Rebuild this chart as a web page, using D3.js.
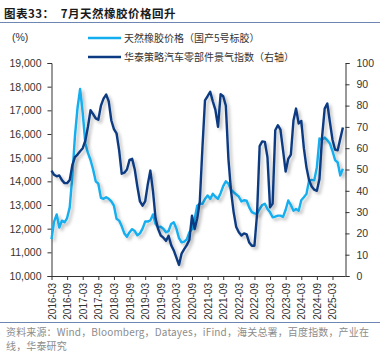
<!DOCTYPE html>
<html>
<head>
<meta charset="utf-8">
<script src="https://cdn.jsdelivr.net/npm/d3@7"></script>
<style>
  body { margin: 0; background: #fff; }
  svg text { font-family: "Liberation Sans", Arial, "Noto Sans CJK SC", sans-serif; }
  .cjk { font-family: "Noto Sans CJK SC", "Liberation Sans", sans-serif; }
</style>
</head>
<body>
<div id="chart"></div>
<script>
// x axis tick labels, one every 6 months starting 2016-03
const tickLabels = ["2016-03","2016-09","2017-03","2017-09","2018-03","2018-09","2019-03","2019-09",
    "2020-03","2020-09","2021-03","2021-09","2022-03","2022-09","2023-03","2023-09","2024-03","2024-09","2025-03"];

// monthly values 2016-03 .. 2025-07
const rubberPrice = [
    11560, 12300, 12600, 12050, 12340, 12270, 12450, 12900, 14200, 15900,
    17100, 17900, 16900, 15600, 15200, 14900, 14500, 14000, 13900, 13300,
    13260, 13330, 13260, 13150, 12970, 12420, 12340, 12100, 11800, 11660,
    11850, 11980, 11900, 11720, 11800, 12000, 12300, 12300, 12350, 12600,
    12200, 12050, 12080, 12000, 11850, 11900, 12200, 12270, 12000, 11600,
    11420, 11450, 11550, 11850, 11980, 12400, 12970, 13050, 13050, 13250,
    13400, 13260, 13470, 13350, 13260, 13500, 13800, 14000, 13900, 13650,
    13540, 13450, 13350, 13150, 13200, 13180, 12900, 12700, 12650, 12620,
    12830, 13000, 13050, 12830, 12690, 12480, 12510, 12550, 12550, 12500,
    12800, 13190, 13000, 12760, 12830, 12760, 13200, 13330, 13470, 14040,
    14060, 14040, 14600, 15810, 15750, 15850, 15740, 15600, 15280, 14900,
    14800, 14250, 14530
];

const autoIndex = [
    49.5, 47.5, 46.8, 47.2, 45.0, 43.6, 43.6, 45.0, 52.0, 55.8,
    57.0, 58.6, 60.0, 63.5, 70.0, 77.8, 76.0, 74.0, 73.4, 80.0,
    83.3, 85.2, 82.0, 73.0, 69.0, 67.0, 59.0, 48.0, 48.5, 50.0,
    54.5, 55.0, 50.0, 42.0, 35.0, 33.0, 35.0, 43.0, 49.5, 40.0,
    27.0, 22.0, 19.0, 18.0, 16.5, 18.9, 14.5, 12.0, 8.6, 5.2,
    10.5, 12.6, 14.5, 17.0, 28.3, 22.0, 27.0, 35.0, 60.0, 82.5,
    84.4, 86.5, 82.0, 78.0, 70.0, 85.4, 84.4, 80.0, 55.0, 40.0,
    30.0, 23.0, 20.5, 19.0, 20.0, 19.5, 15.7, 14.2, 14.2, 29.0,
    61.0, 63.2, 63.0, 55.8, 32.2, 34.0, 68.4, 70.8, 68.7, 59.0,
    49.0, 55.0, 57.0, 73.0, 78.6, 71.6, 72.8, 60.0, 51.0, 45.0,
    42.0, 40.5, 40.0, 45.6, 65.3, 78.6, 81.0, 72.3, 64.0, 59.3,
    59.0, 64.5, 69.7
];

const leftTicks = [10000, 11000, 12000, 13000, 14000, 15000, 16000, 17000, 18000, 19000];
const rightTicks = [0, 10, 20, 30, 40, 50, 60, 70, 80, 90, 100];

const width = 380, height = 362;
const lightBlue = "#12AEEF", darkBlue = "#0B3A82";

const svg = d3.select("#chart")
    .append("svg")
    .attr("width", width)
    .attr("height", height);

// soft shadow under the lines
const defs = svg.append("defs");
defs.append("filter")
    .attr("id", "shadow")
    .attr("x", "-5%").attr("y", "-5%")
    .attr("width", "115%").attr("height", "115%")
    .append("feDropShadow")
    .attr("dx", 2.5).attr("dy", 2.5)
    .attr("stdDeviation", 1.8)
    .attr("flood-color", "#000")
    .attr("flood-opacity", 0.25);

// title + rule
svg.append("text")
    .attr("class", "cjk")
    .attr("x", 4).attr("y", 18)
    .style("font-size", "11.5px")
    .style("font-weight", "bold")
    .style("letter-spacing", "0.5px")
    .style("white-space", "pre")
    .style("fill", "#1a1a1a")
    .text("图表33：  7月天然橡胶价格回升");

svg.append("line")
    .attr("x1", 0).attr("x2", width)
    .attr("y1", 22.5).attr("y2", 22.5)
    .attr("stroke", "#6d86b3")
    .attr("stroke-width", 1);

const x = d3.scaleLinear().domain([0, 113]).range([51.5, 345.5]);
const yL = d3.scaleLinear().domain([10000, 19000]).range([276, 63]);
const yR = d3.scaleLinear().domain([0, 100]).range([276, 63]);

// axes
const leftAxis = svg.append("g")
    .attr("transform", `translate(${x(0)},0)`)
    .call(d3.axisLeft(yL).tickValues(leftTicks).tickSize(4).tickPadding(6)
        .tickFormat(d3.format(",")));

const rightAxis = svg.append("g")
    .attr("transform", `translate(${x(113)},0)`)
    .call(d3.axisRight(yR).tickValues(rightTicks).tickSize(4).tickPadding(7));

const bottomAxis = svg.append("g")
    .attr("transform", `translate(0,${yL(10000)})`)
    .call(d3.axisBottom(x).tickValues(tickLabels.map((d, i) => i * 6)).tickSize(4)
        .tickFormat((d, i) => tickLabels[i]));

bottomAxis.selectAll("text")
    .attr("transform", "rotate(-90)")
    .attr("text-anchor", "end")
    .attr("x", -7)
    .attr("y", 0)
    .attr("dy", "0.35em");

[leftAxis, rightAxis, bottomAxis].forEach(g => {
    g.select(".domain").attr("stroke", "#333");
    g.selectAll(".tick line").attr("stroke", "#333");
    g.selectAll("text").style("font-size", "10.5px").style("fill", "#333")
        .style("font-family", "'Liberation Sans', Arial, sans-serif");
});
bottomAxis.selectAll("text").style("font-size", "10px");
bottomAxis.select(".domain").attr("d", `M${x(0)},0.5H${x(113)}`);

// unit label
svg.append("text")
    .attr("x", 12).attr("y", 41)
    .style("font-size", "10.5px")
    .style("fill", "#333")
    .text("(%)");

// lines
const lineL = d3.line().x((d, i) => x(i)).y(d => yL(d));
const lineR = d3.line().x((d, i) => x(i)).y(d => yR(d));

svg.append("path")
    .datum(rubberPrice)
    .attr("d", lineL)
    .attr("fill", "none")
    .attr("stroke", lightBlue)
    .attr("stroke-width", 2.4)
    .attr("stroke-linejoin", "round")
    .attr("filter", "url(#shadow)");

svg.append("path")
    .datum(autoIndex)
    .attr("d", lineR)
    .attr("fill", "none")
    .attr("stroke", darkBlue)
    .attr("stroke-width", 2.4)
    .attr("stroke-linejoin", "round")
    .attr("filter", "url(#shadow)");

// legend
const legendItems = [
    { name: "天然橡胶价格（国产5号标胶）", color: lightBlue, y: 38 },
    { name: "华泰策略汽车零部件景气指数（右轴）", color: darkBlue, y: 57 }
];

const legend = svg.append("g");
legendItems.forEach(d => {
    legend.append("line")
        .attr("x1", 88).attr("x2", 121)
        .attr("y1", d.y).attr("y2", d.y)
        .attr("stroke", d.color)
        .attr("stroke-width", 2.5);
    legend.append("text")
        .attr("class", "cjk")
        .attr("x", 124).attr("y", d.y)
        .attr("dy", "0.35em")
        .style("font-size", "10px")
        .style("fill", "#333")
        .text(d.name);
});

// source note
svg.append("line")
    .attr("x1", 0).attr("x2", width)
    .attr("y1", 322.5).attr("y2", 322.5)
    .attr("stroke", "#6d86b3")
    .attr("stroke-width", 1);

const notes = ["资料来源：Wind，Bloomberg，Datayes，iFind，海关总署，百度指数，产业在", "线，华泰研究"];
notes.forEach((t, i) => {
    svg.append("text")
        .attr("class", "cjk")
        .attr("x", 6).attr("y", 336 + i * 14)
        .style("font-size", "10px")
        .style("letter-spacing", "0.15px")
        .style("fill", "#8c8c8c")
        .text(t);
});
</script>
</body>
</html>
